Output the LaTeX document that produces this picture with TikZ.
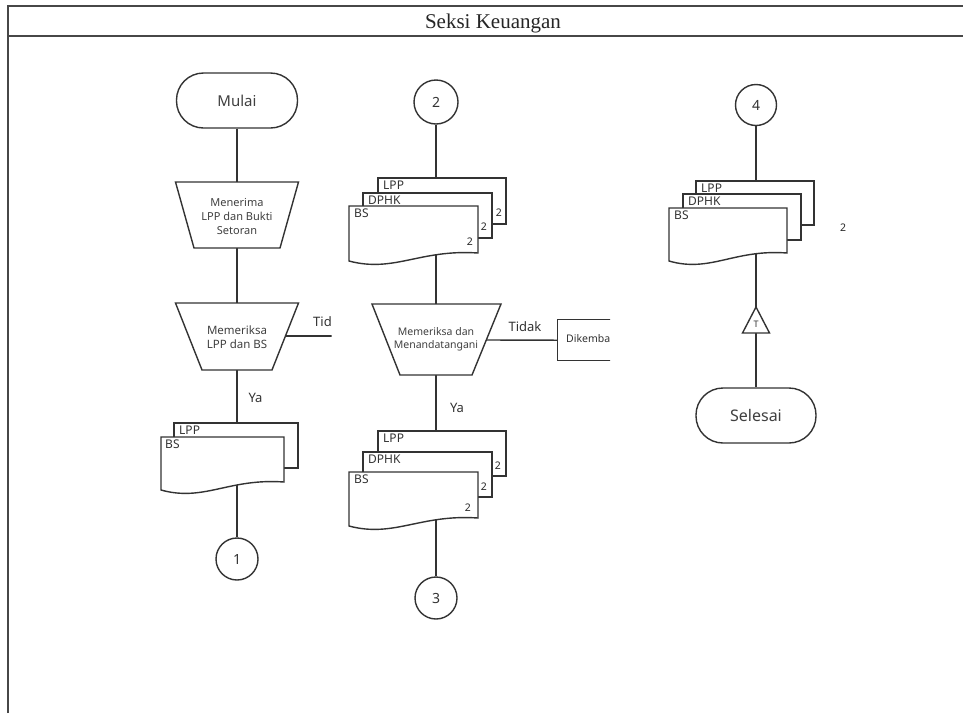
\documentclass[tikz,border=0pt]{standalone}
\usepackage{fontspec}
\setmainfont{Noto Sans}
\newfontfamily\hdrfont{Liberation Serif}
\usetikzlibrary{calc}
\newcommand\fs[1]{\fontsize{#1}{#1}\selectfont}
% front document with wavy bottom: xl, yt, xr, yb
\newcommand\docfront[4]{%
  \path[shp] (#1,#2) -- (#3,#2) -- (#3,#4)
    .. controls ({#1+0.55*(#3-#1)},{#4-4}) and ({#1+0.35*(#3-#1)},{#4+20}) .. (#1,{#4+8}) -- cycle;}
\newcommand\docback[4]{\path[shp] (#1,#2) rectangle (#3,#4);}
\tikzset{
  ln/.style={draw=black!80, line width=1.4pt},
  shp/.style={draw=black!80, line width=1.4pt, fill=white},
  frame/.style={draw=black!72, line width=2pt},
  term/.style={shp, rectangle, rounded corners=27pt, minimum width=121pt, minimum height=55pt, inner sep=0pt, text=black!75},
  conn/.style={shp, circle, inner sep=0pt, text=black!80, font=\fs{14}},
  proc/.style={align=center, inner sep=0pt, text=black!75},
  lbl/.style={inner sep=0pt, text=black!80, font=\fs{13}},
  doclbl/.style={anchor=north west, inner sep=0pt, text=black!80, font=\fs{12}},
  cnt/.style={anchor=south east, inner sep=0pt, text=black!85, font=\fs{10.5}},
}
\begin{document}
\begin{tikzpicture}[x=1pt,y=-1pt]
\useasboundingbox (0,0) rectangle (963,713);
\fill[white] (0,0) rectangle (963,713);
% table frame
\draw[frame] (7.5,713) -- (7.5,5.5) -- (963,5.5);
\draw[frame] (7.5,35.5) -- (963,35.5);
\node[inner sep=0pt, anchor=base, text=black!85] (hdr) at (493,28) {\hdrfont\fs{21}Seksi Keuangan};

% ---------- coordinates ----------
% column 1
\coordinate (t1n) at (237,182); \coordinate (t1s) at (237,248);
\coordinate (t2n) at (237,303); \coordinate (t2s) at (237,370);
\coordinate (t2e) at (285.5,336); \coordinate (tidend) at (340,336);
\coordinate (s1top) at (237,423); \coordinate (s1bot) at (237,478);
% column 2
\coordinate (s2top) at (436,178); \coordinate (s2bot) at (436,250);
\coordinate (t3n) at (436,304); \coordinate (t3s) at (436,375);
\coordinate (t3e) at (486,340);
\coordinate (s3top) at (436,431); \coordinate (s3bot) at (436,515);
% column 3
\coordinate (s4top) at (756,181); \coordinate (s4bot) at (756,250);
\coordinate (trtop) at (756,307); \coordinate (trbot) at (756,333);

% ---------- column 1 ----------
\node[term, font=\fs{15}] (mulai) at (237,100.5) {Mulai};
\node[conn, minimum size=42pt] (c1) at (237,559) {1};
\draw[ln] (mulai.south) -- (t1n);
\draw[ln] (t1s) -- (t2n);
\draw[ln] (t2s) -- (s1top);
\draw[ln] (s1bot) -- (c1.north);
\path[shp] (175.5,182) -- (298.5,182) -- (280,248) -- (194,248) -- cycle;
\node[proc, font=\fontsize{11}{14}\selectfont] (t1) at (237,216) {Menerima\\LPP dan Bukti\\Setoran};
\begin{scope}
  \clip (0,0) rectangle (331.5,713);
  \draw[ln] (t2e) -- (tidend);
  \node[lbl, anchor=west] (tid) at (313,322) {Tidak};
\end{scope}
\path[shp] (175.5,303) -- (298.5,303) -- (272,370) -- (202,370) -- cycle;
\node[proc, font=\fontsize{11.5}{13.5}\selectfont] (t2) at (237,337) {Memeriksa\\LPP dan BS};
\node[lbl] (ya1) at (255.5,398) {Ya};
\docback{174}{423}{298}{468}
\docfront{161}{437}{284}{482}
\node[doclbl] at (179,425.5) {LPP};
\node[doclbl] at (165,439.5) {BS};

% ---------- column 2 ----------
\node[conn, minimum size=44pt] (c2) at (436,102) {2};
\node[conn, minimum size=42pt] (c3) at (436,598) {3};
\draw[ln] (c2.south) -- (s2top);
\draw[ln] (s2bot) -- (t3n);
\draw[ln] (t3s) -- (s3top);
\draw[ln] (s3bot) -- (c3.north);
% stack A
\docback{378}{178}{506}{224}
\node[cnt] at (502,217) {2};
\docback{363}{193}{492}{238}
\node[cnt] at (487,231) {2};
\docfront{349}{206}{478}{253}
\node[cnt] at (473,246) {2};
\node[doclbl] at (383,181) {LPP};
\node[doclbl] at (368,196) {DPHK};
\node[doclbl] at (354,209) {BS};
% decision
\path[shp] (372,304) -- (501,304) -- (472,375) -- (400,375) -- cycle;
\node[proc, font=\fontsize{10.5}{13}\selectfont] (t3) at (436,339) {Memeriksa dan\\Menandatangani};
\begin{scope}
  \clip (0,0) rectangle (610,713);
  \node[shp, rectangle, minimum width=90pt, minimum height=41pt, anchor=north west] (kembali) at (557,319) {};
  \draw[ln] (t3e) -- (kembali.west);
  \node[inner sep=0pt, anchor=west, text=black!80, font=\fs{10.5}] (kembtxt) at (566,338.5) {Dikembalikan};
\end{scope}
\node[lbl] (tidak) at (525,327) {Tidak};
\node[lbl] (ya2) at (457,408) {Ya};
% stack B
\docback{378}{431}{506}{476}
\node[cnt] at (501,470) {2};
\docback{363}{452}{492}{497}
\node[cnt] at (487,491) {2};
\docfront{349}{472}{478}{518}
\node[cnt] at (471,512) {2};
\node[doclbl] at (383,434) {LPP};
\node[doclbl] at (368,455) {DPHK};
\node[doclbl] at (354,475) {BS};

% ---------- column 3 ----------
\node[conn, minimum size=41pt] (c4) at (756,105) {4};
\node[term, font=\fs{16}, minimum width=120pt] (selesai) at (756,415.5) {Selesai};
\draw[ln] (c4.south) -- (s4top);
\draw[ln] (s4bot) -- (trtop);
\draw[ln] (trbot) -- (selesai.north);
\docback{696}{181}{814}{225}
\docback{683}{194}{801}{240}
\docfront{669}{208}{787}{253}
\node[doclbl] at (701,184) {LPP};
\node[doclbl] at (688,197) {DPHK};
\node[doclbl] at (674,211) {BS};
\node[inner sep=0pt, text=black!85, font=\fs{10.5}] (two) at (843,228) {2};
\path[shp] (trtop) -- (769.5,333) -- (742.5,333) -- cycle;
\node[inner sep=0pt, text=black!80, font=\fs{9}] (tT) at (756,324.5) {T};
\end{tikzpicture}
\end{document}
